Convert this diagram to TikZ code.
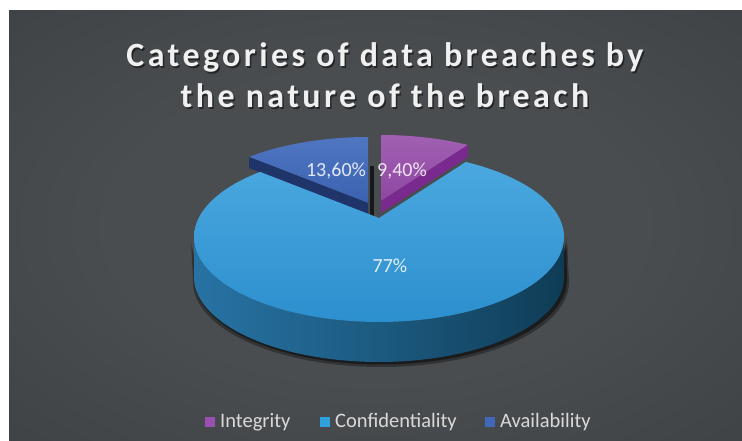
\documentclass[tikz,border=0pt]{standalone}
\usepackage{fontspec}
\setmainfont{Carlito}
\newfontfamily\titlefont{Carlito}[LetterSpace=10]

% palette
\definecolor{bgmid}{HTML}{4A4D50}
\definecolor{bgedge}{HTML}{2A2E32}
\definecolor{cftop}{HTML}{4BA8DF}
\definecolor{cfbot}{HTML}{2C8FCE}
\definecolor{cs1}{HTML}{3084BA}
\definecolor{cs2}{HTML}{2670A0}
\definecolor{cs3}{HTML}{1C5A80}
\definecolor{cs4}{HTML}{0F3C55}
\definecolor{cs5}{HTML}{134159}
\definecolor{intop}{HTML}{A160B2}
\definecolor{inbot}{HTML}{8E47A3}
\definecolor{incut}{HTML}{7A2A8F}
\definecolor{avtop}{HTML}{5076C2}
\definecolor{avbot}{HTML}{3A62B0}
\definecolor{avcut}{HTML}{1F3468}
\definecolor{gapdark}{HTML}{16181B}
\definecolor{legint}{HTML}{9A50B1}
\definecolor{legconf}{HTML}{2FA2DE}
\definecolor{legavail}{HTML}{4167B9}
\definecolor{legtext}{HTML}{D9D9D9}
\definecolor{titletext}{HTML}{F0F0F0}

\pgfdeclareradialshading{bgglow}{\pgfpoint{0bp}{0bp}}{color(0bp)=(bgmid); color(18bp)=(bgmid); color(72bp)=(bgedge)}
\pgfdeclarehorizontalshading{confside}{100bp}{color(0bp)=(cs1); color(28bp)=(cs2); color(50bp)=(cs3); color(75bp)=(cs4); color(100bp)=(cs5)}

\tikzset{
  pct/.style={font=\fontsize{20}{24}\selectfont, text=white, text opacity=0.85, inner sep=0pt, anchor=base},
  legkey/.style={minimum size=10pt, inner sep=0pt, outer sep=0pt},
  legtxt/.style={font=\fontsize{20.5}{24}\selectfont, text=legtext, inner sep=0pt, anchor=base west},
  headfont/.style={font=\titlefont\bfseries\fontsize{34}{41}\selectfont, inner sep=0pt, anchor=base},
  headline/.style={headfont, text=titletext},
  headshadow/.style={headfont, text=black, text opacity=0.5}
}

\begin{document}
\begin{tikzpicture}[x=1pt,y=-1pt]
\useasboundingbox (0,0) rectangle (742,441);
\fill[white] (0,0) rectangle (742,441);
% chart area
\shade[shading=bgglow] (9,11) rectangle (742,441);

% title, with a drop shadow behind it
\node[headshadow] at (386.5,69) {Categories of data breaches by};
\node[headshadow] at (386.5,110) {the nature of the breach};
\node[headline] (title1) at (385,67) {Categories of data breaches by};
\node[headline] (title2) at (385,108) {the nature of the breach};

% soft shadow under the pie
\fill[black,opacity=0.35] plot[domain=90:270,samples=90] ({379+188*sin(\x)},{239-85*cos(\x)})
  -- plot[domain=270:90,samples=90] ({381+188*sin(\x)},{282-85*cos(\x)}) -- cycle;
\fill[black,opacity=0.45] plot[domain=90:270,samples=90] ({380+186*sin(\x)},{238-85*cos(\x)})
  -- plot[domain=270:90,samples=90] ({381+186*sin(\x)},{279.5-85*cos(\x)}) -- cycle;

% Availability slice (pulled out)
\shade[top color=avtop,bottom color=avbot] (368,203)
  -- plot[domain=320:360,samples=30] ({368+185*sin(\x)},{222-85*cos(\x)}) -- cycle;
\fill[avcut] (249,157) -- (368,203) -- (368,214) -- (249,168) -- cycle;

% Integrity slice (pulled out)
\shade[top color=intop,bottom color=inbot] (381,201)
  -- plot[domain=0:28,samples=30] ({381+185*sin(\x)},{220-85*cos(\x)}) -- cycle;
\fill[incut] (381,201) -- (468,145) -- (468,157) -- (381,213) -- cycle;

% inner wall seen through the gap
\fill[gapdark] (369.5,166) rectangle (373.5,216);

% Confidentiality slice: outer wall
\shade[shading=confside] plot[domain=90:270,samples=90] ({379+185*sin(\x)},{237-85*cos(\x)})
  -- plot[domain=270:90,samples=90] ({379+185*sin(\x)},{277-85*cos(\x)}) -- cycle;
% Confidentiality slice: top face
\shade[top color=cftop,bottom color=cfbot] (379,218)
  -- plot[domain=28:320,samples=150] ({379+185*sin(\x)},{237-85*cos(\x)}) -- cycle;

% data labels
\node[pct] (lblAvail) at (336,177) {13,60\%};
\node[pct] (lblInt) at (402,177) {9,40\%};
\node[pct] (lblConf) at (390,272) {77\%};

% legend
\node[legkey,fill=legint] (keyInt) at (210,422) {};
\node[legtxt] (txtInt) at (220,427) {Integrity};
\node[legkey,fill=legconf] (keyConf) at (324.5,422) {};
\node[legtxt] (txtConf) at (335,427) {Confidentiality};
\node[legkey,fill=legavail] (keyAvail) at (489.5,422) {};
\node[legtxt] (txtAvail) at (500,427) {Availability};
\end{tikzpicture}
\end{document}
